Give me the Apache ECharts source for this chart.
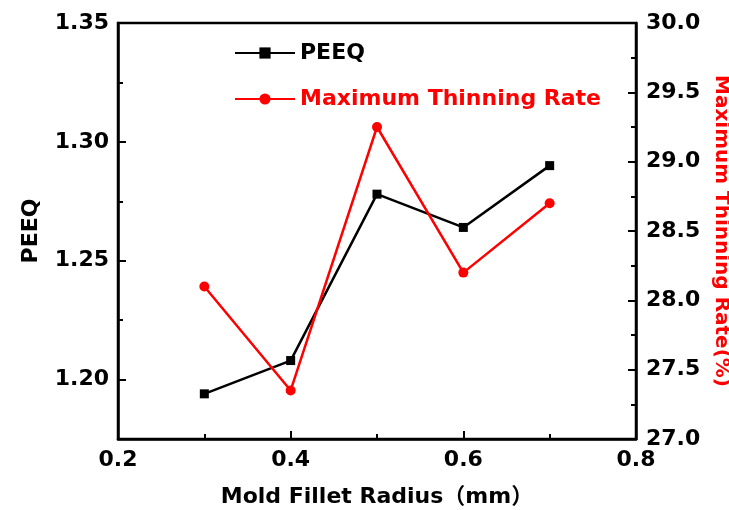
<!DOCTYPE html>
<html>
<head>
<meta charset="utf-8">
<script src="https://cdn.jsdelivr.net/npm/echarts@6/dist/echarts.min.js"></script>
<style>
  html, body { margin: 0; padding: 0; background: #fff; }
  #chart { width: 729px; height: 510px; }
</style>
</head>
<body>
<div id="chart"></div>
<script>
// 数据
const radius = [0.3, 0.4, 0.5, 0.6, 0.7];
const peeq = [1.194, 1.208, 1.278, 1.264, 1.290];
const thinningRate = [28.10, 27.35, 29.25, 28.20, 28.70];
const peeqTicks = [1.20, 1.25, 1.30, 1.35];
const peeqMinorTicks = [1.225, 1.275, 1.325];

const FONT = "'DejaVu Sans', 'Noto Sans CJK SC', sans-serif";
const RED = '#ff0000';

let chart = echarts.init(document.getElementById('chart'));
let option = {
  animation: false,
  textStyle: { fontFamily: FONT },
  grid: {
    left: 118,
    right: 93,
    top: 23,
    bottom: 71,
    outerBoundsMode: 'none',
    containLabel: false,
    show: true,
    borderColor: '#000',
    borderWidth: 2.5,
    backgroundColor: 'transparent'
  },
  legend: {
    orient: 'vertical',
    left: 229,
    top: 37,
    itemWidth: 60,
    itemHeight: 14,
    itemGap: 24,
    textStyle: { fontSize: 22, fontWeight: 'bold', fontFamily: FONT },
    data: [
      { name: 'PEEQ', textStyle: { color: '#000' } },
      { name: 'Maximum Thinning Rate', textStyle: { color: RED } }
    ]
  },
  xAxis: {
    type: 'value',
    min: 0.2,
    max: 0.8,
    interval: 0.2,
    name: 'Mold Fillet Radius（mm）',
    nameLocation: 'middle',
    nameGap: 47,
    nameTextStyle: { fontSize: 22, fontWeight: 'bold', color: '#000', fontFamily: FONT },
    axisLine: { lineStyle: { color: '#000', width: 2.5 } },
    axisTick: { inside: true, length: 8, lineStyle: { color: '#000', width: 2 } },
    minorTick: { show: true, splitNumber: 2, length: 5, lineStyle: { color: '#000', width: 2 } },
    splitLine: { show: false },
    axisLabel: {
      margin: 10,
      fontSize: 22,
      fontWeight: 'bold',
      color: '#000',
      formatter: v => v.toFixed(1)
    }
  },
  yAxis: [
    {
      type: 'value',
      position: 'left',
      min: 1.175,
      max: 1.35,
      name: 'PEEQ',
      nameLocation: 'middle',
      nameGap: 76,
      nameTextStyle: { fontSize: 22, fontWeight: 'bold', color: '#000', fontFamily: FONT },
      axisLine: { show: true, lineStyle: { color: '#000', width: 2.5 } },
      axisTick: { show: true, inside: true, length: 8, customValues: peeqTicks, lineStyle: { color: '#000', width: 2 } },
      splitLine: { show: false },
      axisLabel: {
        margin: 9,
        fontSize: 22,
        fontWeight: 'bold',
        color: '#000',
        customValues: peeqTicks,
        formatter: v => v.toFixed(2)
      }
    },
    {
      type: 'value',
      position: 'right',
      min: 27,
      max: 30,
      interval: 0.5,
      name: 'Maximum Thinning Rate(%)',
      nameLocation: 'middle',
      nameRotate: -90,
      nameGap: 70,
      nameTextStyle: { fontSize: 20, fontWeight: 'bold', color: RED, fontFamily: FONT },
      axisLine: { show: true, lineStyle: { color: '#000', width: 2.5 } },
      axisTick: { show: true, inside: true, length: 8, lineStyle: { color: '#000', width: 2 } },
      minorTick: { show: true, splitNumber: 2, length: 5, lineStyle: { color: '#000', width: 2 } },
      splitLine: { show: false },
      axisLabel: {
        margin: 10,
        fontSize: 22,
        fontWeight: 'bold',
        color: '#000',
        formatter: v => v.toFixed(1)
      }
    },
    {
      // 左轴的次刻度
      type: 'value',
      position: 'left',
      min: 1.175,
      max: 1.35,
      axisLine: { show: false },
      axisTick: { show: true, inside: true, length: 5, customValues: peeqMinorTicks, lineStyle: { color: '#000', width: 2 } },
      axisLabel: { show: false },
      splitLine: { show: false }
    }
  ],
  series: [
    {
      name: 'PEEQ',
      type: 'line',
      yAxisIndex: 0,
      data: radius.map((x, i) => [x, peeq[i]]),
      symbol: 'rect',
      symbolSize: 9,
      itemStyle: { color: '#000' },
      lineStyle: { color: '#000', width: 2.5 }
    },
    {
      name: 'Maximum Thinning Rate',
      type: 'line',
      yAxisIndex: 1,
      data: radius.map((x, i) => [x, thinningRate[i]]),
      symbol: 'circle',
      symbolSize: 10,
      itemStyle: { color: RED },
      lineStyle: { color: RED, width: 2.5 }
    }
  ]
};
chart.setOption(option);
</script>
</body>
</html>
